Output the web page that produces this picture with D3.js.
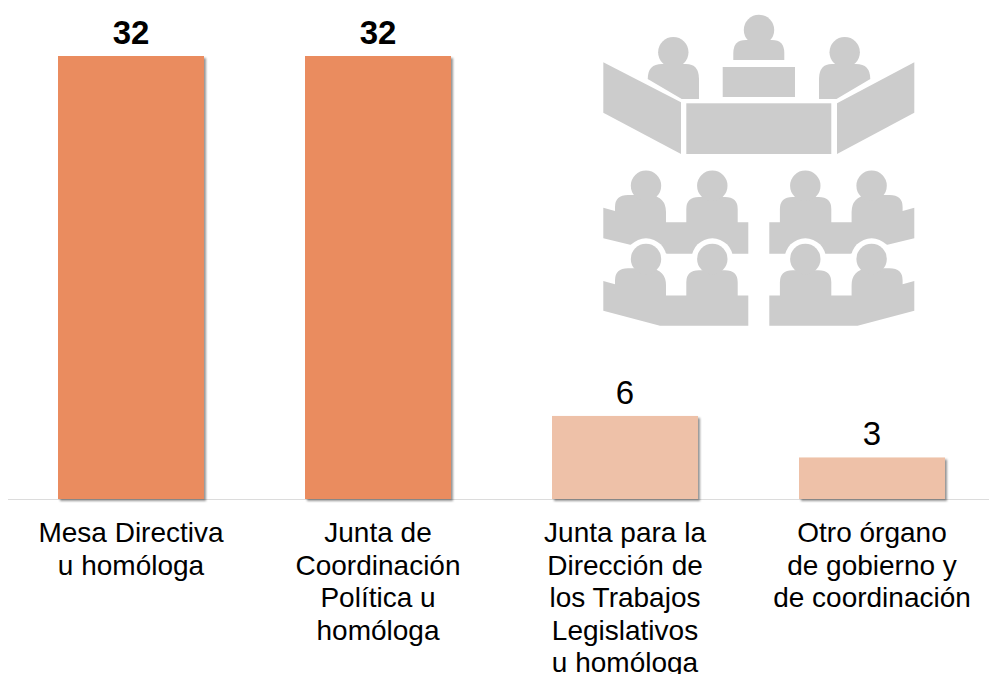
<!DOCTYPE html>
<html>
<head>
	<meta charset="utf-8">
	<title></title>
	<style>
		html, body { margin: 0; padding: 0; background: #fff; overflow: hidden; }
		svg { display: block; }
		text { font-family: "Liberation Sans", Arial, sans-serif; fill: #000; }
	</style>
</head>
<body>
	<svg id="container" width="989" height="674">
		<defs>
			<filter id="shadow" x="-5%" y="-5%" width="115%" height="115%">
				<feDropShadow dx="2" dy="2" stdDeviation="1" flood-color="#000" flood-opacity="0.42"></feDropShadow>
			</filter>
			<filter id="soft"><feGaussianBlur stdDeviation="0.45"></feGaussianBlur></filter>
		</defs>
		<g id="icon"></g>
		<g id="body"></g>
	</svg>
</body>
<script src="https://d3js.org/d3.v7.min.js"></script>
<script>
	let categories = ["Mesa Directiva", "Junta de Coordinación", "Junta para la Dirección", "Otro órgano"]
	let values = [32, 32, 6, 3]
	let labelLines = [
		["Mesa Directiva", "u homóloga"],
		["Junta de", "Coordinación", "Política u", "homóloga"],
		["Junta para la", "Dirección de", "los Trabajos", "Legislativos", "u homóloga"],
		["Otro órgano", "de gobierno y", "de coordinación"]
	]

	let body = d3.select("#body")
	let baseline = 499
	let gray = "#cccccc"

	let x = d3.scaleBand()
		.domain(categories)
		.range([7.5, 995.5])
		.paddingInner(0.409)
		.paddingOuter(0.2045)

	let y = d3.scaleLinear()
		.domain([0, 32])
		.range([baseline, 56])

	// the axis line, it runs off the right side of the page
	let axis = body.append("g")
		.attr("transform", `translate(0,${baseline})`)
		.call(d3.axisBottom(x).tickSize(0))
	axis.select(".domain").attr("stroke", "#dcdcdc").attr("stroke-width", 1.2)
	axis.selectAll(".tick text")
		.attr("font-size", 28)
		.attr("font-family", null)
		.attr("dy", null)
		.text(null)
		.each(function(d, i) {
			let label = d3.select(this)
			labelLines[i].forEach((line, j) => {
				label.append("tspan")
					.attr("x", 0)
					.attr("y", 43 + j * 32.5)
					.text(line)
			})
		})

	body.selectAll("rect.bar")
		.data(values)
		.enter().append("rect")
		.attr("class", "bar")
		.attr("x", (d, i) => x(categories[i]))
		.attr("y", d => y(d))
		.attr("width", x.bandwidth())
		.attr("height", d => baseline - y(d))
		.attr("fill", d => d === d3.max(values) ? "#ea8c5f" : "#eec1a8")
		.attr("filter", "url(#shadow)")

	body.selectAll("text.value")
		.data(values)
		.enter().append("text")
		.attr("class", "value")
		.attr("x", (d, i) => x(categories[i]) + x.bandwidth() / 2)
		.attr("y", d => y(d) - 12)
		.attr("text-anchor", "middle")
		.attr("font-size", 33)
		.attr("font-weight", d => d === d3.max(values) ? "bold" : "normal")
		.text(d => d)

	// decorative picture of the meeting room, top right
	let icon = d3.select("#icon").attr("filter", "url(#soft)")

	function head(g, hx, hy) {
		g.append("circle").attr("cx", hx).attr("cy", hy).attr("r", 15.2).attr("fill", gray)
	}

	// head table
	icon.append("path").attr("d", "M603.3,62.3 L681,102.3 V154 L603.3,112.7 Z").attr("fill", gray)
	icon.append("path").attr("d", "M914.3,62.3 L837,103.3 V154 L914.3,112.7 Z").attr("fill", gray)
	icon.append("rect").attr("x", 686.3).attr("y", 103.3).attr("width", 145).attr("height", 50.7).attr("fill", gray)
	icon.append("rect").attr("x", 722.7).attr("y", 67).attr("width", 72.3).attr("height", 30).attr("fill", gray)
	head(icon, 759, 30)
	head(icon, 673.3, 52.3)
	head(icon, 844.7, 52.3)
	icon.append("path").attr("d", "M733.3,60 V53 Q733.3,40 746,40 H772 Q784.3,40 784.3,53 V60 Z").attr("fill", gray)
	icon.append("path").attr("d", "M647.7,79 Q647.7,64 662,64 H686 Q699,64 699,79 V99 H681.7 Z").attr("fill", gray)
	icon.append("path").attr("d", "M870.3,79 Q870.3,64 856,64 H832 Q819,64 819,79 V99 H836.5 Z").attr("fill", gray)

	// one row of seats: two people behind a desk, dy moves it down the page
	function seatRow(g, dy, bottom) {
		let top = "M603.3,207.7 L615,211 V207 Q615,195 628,195 H650 Q666,197 666,212 V222.3 H686.3 V209 Q686.3,197 699,197 H725 Q737.7,197 737.7,209 V222.3 H748.3"
		g.append("path")
			.attr("transform", `translate(0,${dy})`)
			.attr("d", top + bottom)
			.attr("fill", gray)
		head(g, 646, 185.7 + dy)
		head(g, 712.3, 185.7 + dy)
	}

	// right half is the left half mirrored
	function seats(g) {
		seatRow(g, 0, " V253.7 H667.3 L603.3,238.3 Z")
		// white gap round the heads of the front row
		g.append("circle").attr("cx", 646).attr("cy", 259).attr("r", 20.7).attr("fill", "#fff")
		g.append("circle").attr("cx", 712.3).attr("cy", 259).attr("r", 20.7).attr("fill", "#fff")
		seatRow(g, 73.3, " V252.4 H660 L603.3,237.4 Z")
	}

	seats(icon.append("g"))
	seats(icon.append("g").attr("transform", "translate(1517.6,0) scale(-1,1)"))
</script>
</html>
